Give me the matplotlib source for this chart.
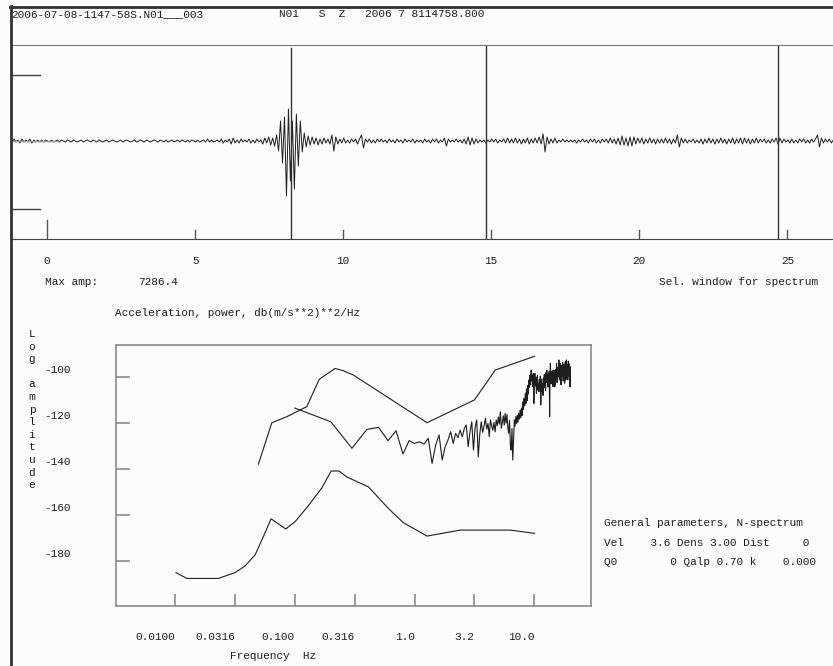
import numpy as np
import matplotlib.pyplot as plt
from matplotlib.lines import Line2D
from matplotlib.ticker import NullLocator
from matplotlib.transforms import offset_copy

plt.rcParams['font.family'] = ['Liberation Mono', 'DejaVu Sans Mono']
plt.rcParams['font.size'] = 8

INK = '#1e1e1e'
GREY = '#8a8a8a'
BG = '#fcfcfc'

# Header / station info
FILE_NAME = '2006-07-08-1147-58S.N01___003'
STATION_INFO = 'N01   S  Z   2006 7 8114758.800'
MAX_AMP = '7286.4'

# Seismogram, 15 samples per second starting at -1.25 s (one row = one second)
TRACE_T0 = -1.25
TRACE_SPS = 15
trace = [
    1, -1, 2, -1, 1, -2, 2, -1, 1, -1, 2, -2, 1, -1, 1,
    -1, 1, -1, 1, 0, -1, 1, -1, 0, 1, -1, 1, 0, -1, 1,
    0, -1, 1, 0, -1, 0, 1, -1, 0, 1, 0, -1, 1, 0, -1,
    1, 0, -1, 0, 1, -1, 0, 1, 0, -1, 0, 1, -1, 0, 1,
    0, -1, 0, 1, -1, 0, 1, 0, -1, 1, 0, -1, 0, 1, 0,
    -1, 1, 0, -1, 1, -1, 0, 1, -1, 0, 1, -1, 1, 0, -1,
    1, -1, 1, 0, -1, 1, -1, 0, 1, -1, 2, -1, 1, -1, 0,
    1, -1, 2, -2, 1, -1, 2, -3, 3, -2, 1, -2, 2, -1, 1,
    -1, 2, -2, 1, -2, 2, -1, 1, -3, 3, -2, 4, -4, 3, -5,
    6, -10, 20, -22, 24, -55, 32, -40, 20, -48, 27, -25, 20, -11, 8,
    -6, 5, -4, 4, -3, 3, -4, 2, -3, 3, -2, 2, -3, 6, -10,
    4, -3, 2, -2, 3, -2, 1, -2, 2, -1, 2, -3, 2, 6, -7,
    2, -1, 2, -2, 1, -2, 2, -1, 2, -1, 1, -2, 2, -1, 1,
    -2, 2, -1, 1, -2, 2, -1, 1, -1, 2, -2, 1, -1, 1, -2,
    2, -1, 1, -2, 2, -1, 2, -2, 1, -1, 3, -5, 2, -1, 1,
    -1, 2, -1, 1, -2, 2, -3, 4, -4, 3, -3, 2, -2, 1, -1,
    1, -2, 1, -1, 2, -1, 2, -2, 1, -1, 2, -2, 3, -2, 2,
    -2, 3, -2, 2, -3, 2, -2, 3, -3, 2, -2, 3, -2, 4, -3,
    7, -11, 4, -3, 2, -2, 3, -2, 1, -1, 2, -1, 1, -1, 1,
    -1, 1, -2, 1, -1, 2, -1, 1, -2, 2, -1, 2, -2, 1, -2,
    2, -1, 2, -2, 3, -2, 2, -3, 3, -4, 5, -4, 3, -5, 4,
    -5, 4, -3, 3, -2, 3, -3, 2, -2, 3, -2, 2, -3, 2, -2,
    2, -2, 3, -2, 2, -3, 2, -2, 6, -6, 3, -2, 2, -2, 1,
    -1, 2, -2, 1, -2, 2, -3, 2, -2, 3, -2, 2, -3, 2, -2,
    3, -2, 2, -3, 2, -2, 3, -3, 2, -2, 3, -3, 3, -2, 2,
    -3, 2, -2, 3, -2, 2, -1, 2, -2, 1, -2, 2, -1, 3, -3,
    3, -2, 2, -1, 1, -2, 2, -2, 1, -2, 2, -1, 2, -2, 1,
    -2, 2, -1, 2, 6, -6, 3, -2, 2, -1, 2, -2, 1, -1, 1,
]
TIME_TICKS = [0, 5, 10, 15, 20, 25]
WINDOW_LINES = [8.23, 14.83, 24.67]

# Spectrum (0.1 Hz steps), dB
SPEC_DF = 0.1
spectrum_db = [
    -113.6, -119.6, -131.1, -122.9, -122.0, -127.8, -123.5, -133.6, -127.8, -129.0,
    -128.3, -129.3, -126.8, -137.7, -129.7, -125.3, -136.2, -130.4, -127.5, -123.9,
    -129.0, -124.6, -126.5, -123.2, -126.1, -122.5, -121.0, -130.4, -124.0, -119.6,
    -131.9, -122.0, -118.8, -134.8, -125.0, -119.6, -124.2, -121.5, -118.1, -122.8,
    -120.3, -126.0, -118.8, -121.4, -123.2, -119.8, -124.0, -118.8, -121.3, -117.5,
    -120.6, -115.2, -122.4, -119.6, -117.0, -121.0, -115.9, -120.2, -116.4, -122.0,
    -124.6, -119.0, -129.5, -131.9, -122.5, -136.2, -127.0, -118.8, -121.5, -117.3,
    -120.4, -116.7, -119.8, -115.9, -118.4, -114.5, -117.9, -113.6, -116.8, -111.0,
    -114.2, -109.4, -112.6, -107.2, -111.6, -105.3, -110.4, -103.8, -107.5, -101.4,
    -104.6, -99.2, -103.5, -97.1, -101.8, -99.3, -104.2, -98.6, -111.6, -100.5,
    -98.6, -104.0, -100.2, -107.2, -102.0, -99.5, -105.8, -102.9, -106.5, -101.2,
    -104.8, -99.8, -112.3, -103.5, -101.0, -106.4, -102.9, -108.1, -100.6, -104.9,
    -99.0, -103.7, -100.4, -106.0, -98.2, -102.5, -97.1, -101.9, -99.4, -104.5,
    -98.8, -103.2, -97.6, -117.4, -100.8, -94.2, -99.6, -103.0, -98.1, -101.7,
    -97.4, -100.0, -104.3, -98.5, -102.2, -97.1, -101.0, -104.3, -99.2, -103.1,
    -96.8, -100.7, -94.2, -98.9, -102.6, -97.5, -100.3, -95.8, -99.6, -92.7,
    -97.3, -101.4, -95.2, -99.0, -94.2, -98.4, -103.5, -96.6, -100.1, -95.0,
    -98.7, -93.9, -97.8, -101.9, -96.1, -99.4, -94.6, -98.2, -102.8, -96.9,
    -93.5, -97.6, -101.4, -95.3, -92.7, -97.0, -100.6, -94.8, -98.3, -101.4,
    -95.7, -93.2, -98.8, -94.2, -99.9, -96.0, -104.3, -95.5, -100.2, -104.3,
]

upper_f = [0.0497, 0.0643, 0.0857, 0.126, 0.160, 0.217, 0.255, 0.309, 1.27, 3.16, 4.71, 10.05]
upper_db = [-138.0, -120.0, -117.4, -113.0, -101.1, -96.4, -97.4, -99.3, -120.0, -110.1, -97.1, -91.1]

lower_f = [0.0102, 0.01253, 0.0230, 0.0317, 0.0384, 0.0466, 0.0547, 0.0634, 0.0841, 0.1007, 0.130,
           0.168, 0.201, 0.234, 0.272, 0.412, 0.605, 0.807, 1.27, 2.40, 6.29, 10.05]
lower_db = [-185.2, -187.7, -187.7, -185.2, -182.3, -177.5, -169.5, -161.8, -166.2, -163.0, -156.0,
            -148.4, -141.0, -141.0, -143.6, -147.9, -157.3, -163.5, -169.3, -166.7, -166.7, -168.1]

FREQ_TICKS = [0.01, 0.0316, 0.1, 0.316, 1.0, 3.16, 10.0]
FREQ_LABELS = ['0.0100', '0.0316', '0.100', '0.316', '1.0', '3.2', '10.0']
DB_TICKS = [-100, -120, -140, -160, -180]

PARAM_LINES = [
    'General parameters, N-spectrum',
    'Vel    3.6 Dens 3.00 Dist     0',
    'Q0        0 Qalp 0.70 k    0.000',
]

W, H = 833, 666


def fx(px):
    return px / W


def fy(py):
    return 1 - py / H


fig = plt.figure(figsize=(W / 100, H / 100), dpi=100, facecolor=BG)

# outer frame: thick left and top border
fig.add_artist(Line2D([fx(10.5), fx(10.5)], [fy(6), 0], color='#333', lw=2))
fig.add_artist(Line2D([fx(10), 1], [fy(6.5), fy(6.5)], color='#333', lw=2))

fig.text(fx(11), fy(14), FILE_NAME, ha='left', va='center', color=INK)
fig.text(fx(279), fy(14), STATION_INFO, ha='left', va='center', color=INK)

# ---- seismogram panel
ax1 = fig.add_axes([fx(11), fy(239), 1 - fx(11), (239 - 45) / H])
ax1.set_facecolor(BG)
t = TRACE_T0 + np.arange(len(trace)) / TRACE_SPS
ax1.plot(t, trace, color=INK, lw=0.7)
ax1.set_xlim(-1.22, 26.54)
ax1.set_ylim(-98, 96)
ax1.set_xticks([])
ax1.set_yticks([])
for side in ['left', 'right']:
    ax1.spines[side].set_visible(False)
ax1.spines['top'].set_color('#777')
ax1.spines['bottom'].set_color('#444')

xt = ax1.get_xaxis_transform()
for s in TIME_TICKS:
    ax1.plot([s, s], [0, 0.098 if s == 0 else 0.046], color='#555', lw=1, transform=xt)
    ax1.text(s, -0.113, str(s), ha='center', va='center', transform=xt, color=INK)
for w in WINDOW_LINES:
    ax1.plot([w, w], [0, 0.985 if w == WINDOW_LINES[0] else 1], color='#333', lw=1, transform=xt)

# scale marks at left
ax1.plot([-1.25, -0.24], [66, 66], color='#444', lw=1)
ax1.plot([-1.25, -0.24], [-68, -68], color='#444', lw=1)
ax1.plot([-1.25, 0.37], [0, 0], color='#999', lw=1)

fig.text(fx(45), fy(282), 'Max amp:', ha='left', va='center', color=INK)
fig.text(fx(138), fy(282), MAX_AMP, ha='left', va='center', color=INK)
fig.text(fx(818), fy(282), 'Sel. window for spectrum', ha='right', va='center', color=INK)
fig.text(fx(115), fy(313), 'Acceleration, power, db(m/s**2)**2/Hz', ha='left', va='center', color=INK)

for i, ch in enumerate('Log amplitude'):
    fig.text(fx(32), fy(334 + 12.6 * i), ch, ha='center', va='center', color=INK)

# ---- spectrum panel
ax2 = fig.add_axes([fx(115.7), fy(606), (590.7 - 115.7) / W, (606 - 345) / H])
ax2.set_facecolor(BG)
freq = SPEC_DF * np.arange(1, len(spectrum_db) + 1)
ax2.plot(upper_f, upper_db, color=INK, lw=0.8)
ax2.plot(lower_f, lower_db, color=INK, lw=0.8)
ax2.plot(freq, spectrum_db, color=INK, lw=0.8)
ax2.set_xscale('log')
ax2.set_xlim(10 ** -2.495, 10 ** 1.47)
ax2.set_ylim(-199.7, -86.2)
for sp in ax2.spines.values():
    sp.set_color(GREY)
    sp.set_linewidth(1.2)
ax2.xaxis.set_minor_locator(NullLocator())
ax2.set_xticks(FREQ_TICKS)
ax2.set_xticklabels([])
ax2.set_yticks(DB_TICKS)
ax2.set_yticklabels([])
ax2.tick_params(axis='x', direction='in', length=9, width=1.2, color=GREY)
ax2.tick_params(axis='y', direction='in', length=10, width=1.2, color=GREY)

for f, lab in zip(FREQ_TICKS, FREQ_LABELS):
    ax2.text(f, -0.119, lab, ha='right', va='center', transform=ax2.get_xaxis_transform(), color=INK)
ylab_tr = offset_copy(ax2.get_yaxis_transform(), fig=fig, y=4.5, units='points')
for v in DB_TICKS:
    ax2.text(-0.094, v, str(v), ha='right', va='center', transform=ylab_tr, color=INK)

fig.text(fx(230), fy(656), 'Frequency  Hz', ha='left', va='center', color=INK)

for i, line in enumerate(PARAM_LINES):
    fig.text(fx(604), fy(523 + 19.5 * i), line, ha='left', va='center', color=INK)

fig.savefig('out.png', dpi=100, facecolor=BG)
